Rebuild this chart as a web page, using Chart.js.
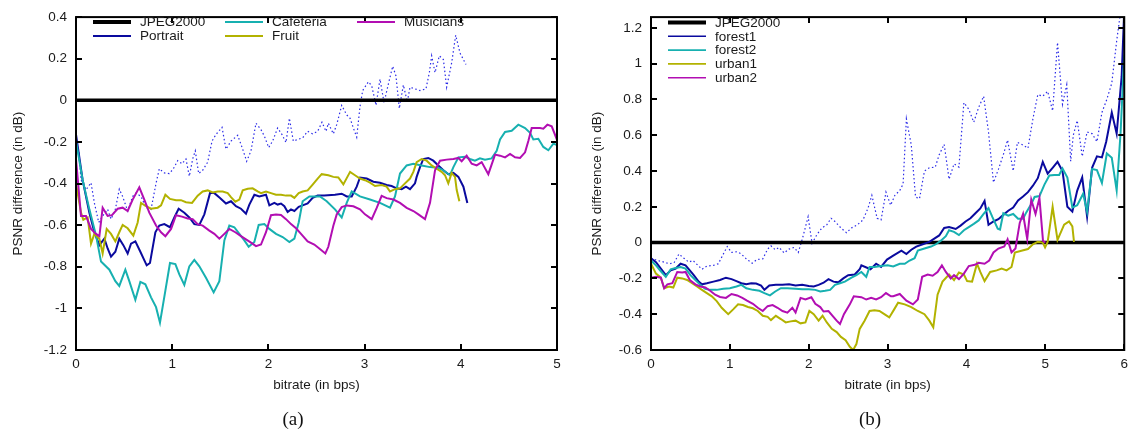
<!DOCTYPE html>
<html>
<head>
<meta charset="utf-8">
<script src="https://cdn.jsdelivr.net/npm/chart.js@4.4.0/dist/chart.umd.min.js"></script>
<style>
  body { margin: 0; background: #fff; }
  #wrap { position: relative; width: 1134px; height: 434px; overflow: hidden; }
  .panel { position: absolute; top: 0; width: 567px; height: 434px; }
  .cap { position: absolute; top: 408px; font-family: "Liberation Serif", "Times New Roman", serif; font-size: 19px; color: #111; transform: translateX(-50%); }
</style>
</head>
<body>
<div id="wrap">
  <div class="panel" style="left:0"><canvas id="chartA"></canvas></div>
  <div class="panel" style="left:567px"><canvas id="chartB"></canvas></div>
  <div class="cap" style="left:293px">(a)</div>
  <div class="cap" style="left:870px">(b)</div>
</div>
<script>
// ---- data: [bitrate (bps), PSNR difference (dB)] ----
const xTicksA = [0, 1, 2, 3, 4, 5];
const yTicksA = [-1.2, -1, -0.8, -0.6, -0.4, -0.2, 0, 0.2, 0.4];
const xTicksB = [0, 1, 2, 3, 4, 5, 6];
const yTicksB = [-0.6, -0.4, -0.2, 0, 0.2, 0.4, 0.6, 0.8, 1, 1.2];

const jpegA = [[0, 0], [5, 0]];
const jpegB = [[0, 0], [6, 0]];

const portrait = [[0,-0.164],[0.069,-0.383],[0.139,-0.540],[0.191,-0.634],[0.243,-0.696],[0.295,-0.665],[0.329,-0.712],[0.364,-0.751],[0.409,-0.728],[0.450,-0.665],[0.492,-0.696],[0.537,-0.736],[0.572,-0.689],[0.617,-0.678],[0.669,-0.728],[0.735,-0.793],[0.769,-0.782],[0.825,-0.634],[0.866,-0.602],[0.918,-0.595],[0.977,-0.610],[1.022,-0.563],[1.067,-0.521],[1.126,-0.540],[1.178,-0.563],[1.230,-0.595],[1.282,-0.599],[1.334,-0.548],[1.393,-0.446],[1.438,-0.446],[1.497,-0.469],[1.559,-0.496],[1.611,-0.485],[1.663,-0.509],[1.715,-0.521],[1.767,-0.545],[1.802,-0.501],[1.854,-0.454],[1.906,-0.462],[1.975,-0.454],[2.010,-0.505],[2.062,-0.493],[2.096,-0.501],[2.131,-0.496],[2.166,-0.509],[2.200,-0.537],[2.235,-0.524],[2.270,-0.532],[2.315,-0.512],[2.356,-0.505],[2.408,-0.496],[2.460,-0.469],[2.512,-0.458],[2.581,-0.458],[2.692,-0.454],[2.762,-0.449],[2.814,-0.462],[2.866,-0.462],[2.918,-0.415],[2.952,-0.371],[3.022,-0.376],[3.091,-0.391],[3.160,-0.396],[3.229,-0.407],[3.281,-0.412],[3.333,-0.423],[3.385,-0.427],[3.430,-0.415],[3.472,-0.427],[3.524,-0.399],[3.541,-0.368],[3.576,-0.321],[3.610,-0.282],[3.662,-0.277],[3.714,-0.290],[3.766,-0.313],[3.819,-0.336],[3.870,-0.355],[3.923,-0.349],[3.975,-0.368],[4.027,-0.415],[4.068,-0.493]];

const cafeteria = [[0,-0.196],[0.069,-0.383],[0.139,-0.524],[0.208,-0.649],[0.260,-0.775],[0.347,-0.814],[0.409,-0.869],[0.450,-0.892],[0.513,-0.814],[0.554,-0.869],[0.617,-0.959],[0.669,-0.873],[0.721,-0.884],[0.780,-0.947],[0.832,-0.994],[0.873,-1.069],[0.929,-0.915],[0.977,-0.782],[1.033,-0.787],[1.074,-0.837],[1.126,-0.887],[1.178,-0.798],[1.230,-0.767],[1.282,-0.798],[1.351,-0.853],[1.431,-0.923],[1.490,-0.869],[1.542,-0.673],[1.594,-0.602],[1.646,-0.610],[1.698,-0.642],[1.750,-0.673],[1.795,-0.704],[1.854,-0.681],[1.899,-0.599],[1.958,-0.595],[2.010,-0.618],[2.079,-0.642],[2.148,-0.657],[2.218,-0.681],[2.270,-0.665],[2.315,-0.587],[2.356,-0.485],[2.426,-0.462],[2.495,-0.462],[2.536,-0.462],[2.606,-0.485],[2.692,-0.524],[2.762,-0.563],[2.814,-0.493],[2.866,-0.438],[2.952,-0.462],[3.056,-0.477],[3.160,-0.493],[3.264,-0.516],[3.316,-0.462],[3.368,-0.352],[3.437,-0.313],[3.507,-0.305],[3.593,-0.313],[3.680,-0.321],[3.766,-0.324],[3.819,-0.336],[3.888,-0.360],[3.923,-0.321],[3.975,-0.274],[4.044,-0.271],[4.095,-0.282],[4.147,-0.290],[4.199,-0.279],[4.251,-0.286],[4.321,-0.279],[4.373,-0.243],[4.408,-0.188],[4.460,-0.152],[4.529,-0.146],[4.598,-0.117],[4.668,-0.133],[4.720,-0.156],[4.754,-0.188],[4.806,-0.185],[4.858,-0.224],[4.910,-0.240],[4.962,-0.208],[5.0,-0.215]];

const fruit = [[0,-0.399],[0.052,-0.540],[0.076,-0.574],[0.121,-0.563],[0.156,-0.689],[0.191,-0.642],[0.243,-0.665],[0.277,-0.736],[0.319,-0.618],[0.364,-0.642],[0.409,-0.678],[0.450,-0.634],[0.485,-0.599],[0.537,-0.615],[0.596,-0.650],[0.641,-0.587],[0.676,-0.493],[0.728,-0.509],[0.780,-0.521],[0.849,-0.516],[0.884,-0.505],[0.929,-0.454],[0.977,-0.474],[1.040,-0.480],[1.091,-0.480],[1.143,-0.490],[1.206,-0.493],[1.265,-0.458],[1.317,-0.438],[1.369,-0.433],[1.421,-0.443],[1.473,-0.438],[1.525,-0.438],[1.577,-0.446],[1.611,-0.465],[1.656,-0.487],[1.698,-0.477],[1.733,-0.433],[1.785,-0.425],[1.836,-0.423],[1.888,-0.438],[1.923,-0.446],[1.975,-0.438],[2.027,-0.446],[2.079,-0.454],[2.131,-0.454],[2.183,-0.458],[2.235,-0.458],[2.270,-0.469],[2.315,-0.446],[2.356,-0.438],[2.408,-0.433],[2.460,-0.405],[2.512,-0.376],[2.554,-0.355],[2.623,-0.360],[2.675,-0.368],[2.727,-0.371],[2.779,-0.404],[2.849,-0.344],[2.900,-0.360],[2.952,-0.376],[3.004,-0.384],[3.056,-0.396],[3.108,-0.412],[3.177,-0.407],[3.229,-0.415],[3.264,-0.438],[3.316,-0.427],[3.368,-0.423],[3.420,-0.399],[3.472,-0.376],[3.507,-0.344],[3.541,-0.297],[3.593,-0.282],[3.645,-0.290],[3.697,-0.313],[3.749,-0.329],[3.801,-0.344],[3.836,-0.360],[3.870,-0.399],[3.905,-0.349],[3.940,-0.368],[3.957,-0.430],[3.985,-0.485]];

const musicians = [[0,-0.282],[0.052,-0.556],[0.104,-0.556],[0.156,-0.618],[0.208,-0.642],[0.243,-0.653],[0.277,-0.516],[0.329,-0.556],[0.374,-0.552],[0.433,-0.521],[0.485,-0.516],[0.537,-0.532],[0.589,-0.477],[0.658,-0.418],[0.710,-0.477],[0.762,-0.540],[0.832,-0.602],[0.884,-0.634],[0.929,-0.653],[0.988,-0.618],[1.040,-0.552],[1.102,-0.559],[1.161,-0.568],[1.213,-0.571],[1.265,-0.595],[1.317,-0.602],[1.386,-0.626],[1.438,-0.642],[1.490,-0.665],[1.542,-0.642],[1.594,-0.618],[1.656,-0.634],[1.715,-0.653],[1.767,-0.668],[1.819,-0.684],[1.871,-0.701],[1.923,-0.693],[1.975,-0.634],[2.027,-0.552],[2.079,-0.549],[2.131,-0.551],[2.183,-0.571],[2.235,-0.595],[2.287,-0.615],[2.339,-0.642],[2.408,-0.678],[2.477,-0.693],[2.529,-0.712],[2.592,-0.736],[2.623,-0.704],[2.675,-0.603],[2.710,-0.548],[2.762,-0.513],[2.814,-0.505],[2.883,-0.509],[2.952,-0.524],[3.004,-0.548],[3.074,-0.571],[3.126,-0.517],[3.177,-0.459],[3.229,-0.470],[3.299,-0.477],[3.368,-0.493],[3.437,-0.517],[3.507,-0.532],[3.559,-0.548],[3.628,-0.571],[3.680,-0.493],[3.732,-0.336],[3.784,-0.290],[3.853,-0.285],[3.923,-0.282],[3.975,-0.277],[4.009,-0.293],[4.061,-0.266],[4.113,-0.305],[4.165,-0.313],[4.217,-0.297],[4.286,-0.355],[4.356,-0.261],[4.408,-0.266],[4.460,-0.274],[4.512,-0.258],[4.564,-0.274],[4.616,-0.277],[4.668,-0.250],[4.702,-0.196],[4.737,-0.133],[4.823,-0.133],[4.858,-0.136],[4.900,-0.117],[4.945,-0.125],[5.0,-0.190]];

const boundA = [[0.03,-0.25],[0.052,-0.383],[0.104,-0.430],[0.156,-0.396],[0.191,-0.493],[0.236,-0.587],[0.277,-0.556],[0.329,-0.524],[0.364,-0.571],[0.409,-0.524],[0.450,-0.427],[0.485,-0.462],[0.537,-0.532],[0.589,-0.462],[0.624,-0.446],[0.676,-0.462],[0.728,-0.516],[0.780,-0.524],[0.832,-0.399],[0.866,-0.329],[0.918,-0.349],[0.970,-0.352],[1.012,-0.329],[1.057,-0.290],[1.102,-0.305],[1.143,-0.282],[1.178,-0.365],[1.213,-0.282],[1.240,-0.243],[1.275,-0.352],[1.317,-0.336],[1.369,-0.297],[1.414,-0.196],[1.455,-0.164],[1.518,-0.130],[1.559,-0.235],[1.611,-0.196],[1.681,-0.168],[1.733,-0.235],[1.774,-0.293],[1.819,-0.243],[1.871,-0.110],[1.923,-0.141],[1.958,-0.172],[2.003,-0.227],[2.044,-0.196],[2.096,-0.133],[2.141,-0.164],[2.183,-0.203],[2.218,-0.086],[2.259,-0.196],[2.304,-0.188],[2.356,-0.180],[2.408,-0.149],[2.460,-0.161],[2.512,-0.149],[2.557,-0.105],[2.599,-0.149],[2.623,-0.110],[2.675,-0.161],[2.710,-0.117],[2.762,-0.024],[2.814,-0.070],[2.849,-0.086],[2.883,-0.133],[2.918,-0.177],[2.952,-0.031],[2.980,0.047],[3.039,0.089],[3.074,0.070],[3.119,-0.024],[3.160,0.102],[3.202,-0.011],[3.247,0.078],[3.292,0.164],[3.326,0.117],[3.361,-0.039],[3.403,0.074],[3.444,-0.008],[3.472,0.063],[3.524,0.055],[3.576,0.047],[3.638,0.055],[3.673,0.133],[3.697,0.214],[3.732,0.133],[3.777,0.214],[3.819,0.196],[3.853,0.063],[3.905,0.180],[3.947,0.313],[3.992,0.227],[4.054,0.172]];

const forest1 = [[0,-0.087],[0.063,-0.109],[0.125,-0.145],[0.188,-0.182],[0.25,-0.155],[0.313,-0.145],[0.375,-0.118],[0.438,-0.127],[0.492,-0.155],[0.542,-0.182],[0.604,-0.218],[0.646,-0.233],[0.708,-0.227],[0.792,-0.218],[0.875,-0.209],[0.95,-0.196],[1.021,-0.204],[1.083,-0.215],[1.146,-0.227],[1.208,-0.233],[1.271,-0.227],[1.333,-0.229],[1.396,-0.240],[1.438,-0.264],[1.5,-0.240],[1.583,-0.236],[1.667,-0.236],[1.75,-0.233],[1.833,-0.240],[1.917,-0.236],[2.0,-0.242],[2.063,-0.245],[2.125,-0.236],[2.188,-0.224],[2.25,-0.204],[2.313,-0.218],[2.375,-0.222],[2.438,-0.200],[2.5,-0.182],[2.583,-0.178],[2.646,-0.149],[2.667,-0.127],[2.783,-0.149],[2.854,-0.118],[2.917,-0.136],[2.992,-0.095],[3.071,-0.073],[3.175,-0.045],[3.238,-0.064],[3.3,-0.040],[3.363,-0.022],[3.446,-0.009],[3.529,0.004],[3.592,0.022],[3.654,0.040],[3.717,0.082],[3.779,0.087],[3.863,0.076],[3.925,0.095],[3.988,0.118],[4.05,0.136],[4.113,0.164],[4.175,0.191],[4.229,0.233],[4.279,0.100],[4.342,0.118],[4.404,0.131],[4.467,0.155],[4.529,0.178],[4.592,0.196],[4.654,0.236],[4.717,0.258],[4.779,0.282],[4.842,0.318],[4.904,0.360],[4.967,0.451],[5.029,0.385],[5.092,0.418],[5.154,0.451],[5.217,0.400],[5.279,0.200],[5.342,0.173],[5.404,0.291],[5.467,0.364],[5.529,0.145],[5.592,0.418],[5.654,0.482],[5.717,0.476],[5.771,0.564],[5.842,0.727],[5.904,0.609],[5.967,0.927],[6.0,1.3]];

const forest2 = [[0,-0.100],[0.063,-0.127],[0.125,-0.160],[0.188,-0.191],[0.25,-0.149],[0.313,-0.142],[0.375,-0.136],[0.438,-0.145],[0.5,-0.182],[0.563,-0.209],[0.625,-0.236],[0.688,-0.258],[0.75,-0.264],[0.833,-0.264],[0.917,-0.258],[1.0,-0.255],[1.083,-0.245],[1.146,-0.236],[1.208,-0.255],[1.292,-0.264],[1.375,-0.269],[1.438,-0.282],[1.508,-0.295],[1.575,-0.273],[1.646,-0.255],[1.729,-0.255],[1.833,-0.258],[1.917,-0.260],[2.0,-0.260],[2.083,-0.264],[2.146,-0.273],[2.208,-0.269],[2.271,-0.264],[2.333,-0.236],[2.396,-0.227],[2.458,-0.218],[2.542,-0.196],[2.604,-0.182],[2.667,-0.164],[2.729,-0.191],[2.771,-0.136],[2.833,-0.136],[2.917,-0.131],[3.0,-0.127],[3.071,-0.133],[3.154,-0.118],[3.217,-0.118],[3.279,-0.100],[3.342,-0.087],[3.383,-0.045],[3.467,-0.033],[3.55,-0.022],[3.613,-0.009],[3.675,0.011],[3.738,0.036],[3.779,0.069],[3.842,0.060],[3.904,0.042],[3.967,0.069],[4.029,0.087],[4.092,0.105],[4.154,0.124],[4.217,0.160],[4.279,0.193],[4.329,0.142],[4.396,0.078],[4.425,0.073],[4.467,0.164],[4.529,0.151],[4.592,0.160],[4.654,0.133],[4.717,0.133],[4.758,0.169],[4.821,0.215],[4.863,0.255],[4.925,0.260],[4.988,0.324],[5.05,0.375],[5.113,0.378],[5.175,0.378],[5.217,0.415],[5.279,0.364],[5.342,0.196],[5.404,0.209],[5.479,0.273],[5.529,0.173],[5.592,0.411],[5.654,0.405],[5.717,0.333],[5.779,0.498],[5.842,0.474],[5.904,0.291],[5.954,0.618],[6.0,1.05]];

const urban1 = [[0,-0.118],[0.063,-0.173],[0.125,-0.196],[0.167,-0.255],[0.229,-0.245],[0.283,-0.251],[0.333,-0.196],[0.396,-0.200],[0.458,-0.209],[0.521,-0.227],[0.583,-0.245],[0.646,-0.264],[0.708,-0.282],[0.771,-0.300],[0.833,-0.327],[0.896,-0.364],[0.979,-0.400],[1.042,-0.373],[1.104,-0.345],[1.167,-0.349],[1.229,-0.360],[1.292,-0.367],[1.354,-0.382],[1.417,-0.409],[1.479,-0.415],[1.521,-0.433],[1.583,-0.409],[1.646,-0.427],[1.708,-0.446],[1.771,-0.440],[1.833,-0.436],[1.896,-0.451],[1.958,-0.446],[2.008,-0.382],[2.063,-0.400],[2.125,-0.436],[2.175,-0.409],[2.229,-0.446],[2.292,-0.482],[2.354,-0.500],[2.408,-0.527],[2.467,-0.545],[2.521,-0.582],[2.563,-0.600],[2.604,-0.567],[2.646,-0.482],[2.708,-0.436],[2.771,-0.382],[2.833,-0.378],[2.896,-0.382],[2.958,-0.400],[3.021,-0.418],[3.083,-0.373],[3.133,-0.336],[3.217,-0.345],[3.3,-0.360],[3.383,-0.382],[3.467,-0.400],[3.529,-0.436],[3.579,-0.473],[3.633,-0.291],[3.696,-0.218],[3.779,-0.178],[3.842,-0.209],[3.904,-0.167],[3.967,-0.178],[4.008,-0.215],[4.071,-0.218],[4.133,-0.118],[4.175,-0.164],[4.229,-0.215],[4.3,-0.164],[4.383,-0.155],[4.446,-0.145],[4.508,-0.155],[4.571,-0.136],[4.613,-0.055],[4.696,-0.045],[4.779,-0.036],[4.842,-0.009],[4.904,0.004],[4.967,0.000],[4.996,-0.027],[5.029,0.004],[5.092,0.200],[5.154,0.015],[5.238,0.100],[5.3,0.118],[5.342,0.091],[5.363,0.004]];

const urban2 = [[0,-0.196],[0.063,-0.191],[0.125,-0.196],[0.167,-0.255],[0.208,-0.233],[0.271,-0.227],[0.333,-0.164],[0.396,-0.167],[0.438,-0.164],[0.492,-0.209],[0.563,-0.233],[0.625,-0.245],[0.688,-0.251],[0.75,-0.269],[0.813,-0.291],[0.875,-0.304],[0.95,-0.309],[1.021,-0.287],[1.092,-0.295],[1.158,-0.309],[1.217,-0.324],[1.292,-0.342],[1.354,-0.364],[1.417,-0.382],[1.479,-0.355],[1.542,-0.349],[1.604,-0.364],[1.667,-0.382],[1.729,-0.391],[1.792,-0.364],[1.833,-0.391],[1.896,-0.309],[1.958,-0.318],[2.033,-0.305],[2.083,-0.342],[2.146,-0.360],[2.188,-0.385],[2.25,-0.382],[2.313,-0.415],[2.354,-0.436],[2.396,-0.455],[2.446,-0.400],[2.521,-0.345],[2.571,-0.300],[2.667,-0.305],[2.729,-0.318],[2.792,-0.309],[2.854,-0.318],[2.917,-0.305],[2.979,-0.282],[3.042,-0.300],[3.071,-0.300],[3.154,-0.287],[3.238,-0.324],[3.321,-0.345],[3.383,-0.318],[3.438,-0.191],[3.508,-0.178],[3.571,-0.185],[3.633,-0.164],[3.688,-0.127],[3.738,-0.164],[3.8,-0.200],[3.842,-0.182],[3.904,-0.204],[3.967,-0.173],[4.029,-0.131],[4.104,-0.124],[4.154,-0.113],[4.229,-0.118],[4.288,-0.100],[4.342,-0.055],[4.404,-0.033],[4.479,-0.022],[4.521,0.018],[4.571,-0.055],[4.621,-0.033],[4.675,0.110],[4.717,0.160],[4.77,0.020],[4.821,0.240],[4.875,0.160],[4.925,0.250],[4.97,0.010],[5.0,0.0]];

const boundB = [[0,-0.087],[0.083,-0.100],[0.167,-0.109],[0.229,-0.118],[0.292,-0.113],[0.354,-0.064],[0.417,-0.087],[0.479,-0.109],[0.533,-0.100],[0.646,-0.149],[0.708,-0.131],[0.792,-0.127],[0.854,-0.118],[0.917,-0.064],[0.967,-0.022],[1.021,-0.055],[1.092,-0.051],[1.146,-0.064],[1.208,-0.091],[1.283,-0.115],[1.342,-0.095],[1.417,-0.091],[1.479,-0.036],[1.521,-0.018],[1.575,-0.040],[1.625,-0.027],[1.688,-0.058],[1.75,-0.036],[1.813,-0.027],[1.867,-0.055],[1.917,0.018],[1.95,0.073],[1.992,0.145],[2.042,-0.004],[2.104,0.045],[2.167,0.082],[2.229,0.100],[2.283,0.136],[2.333,0.118],[2.408,0.082],[2.479,0.055],[2.542,0.082],[2.617,0.100],[2.688,0.127],[2.75,0.191],[2.8,0.264],[2.867,0.136],[2.917,0.127],[2.979,0.282],[3.038,0.209],[3.092,0.264],[3.154,0.291],[3.196,0.327],[3.238,0.691],[3.3,0.545],[3.354,0.255],[3.404,0.245],[3.467,0.400],[3.529,0.418],[3.604,0.422],[3.654,0.491],[3.717,0.549],[3.779,0.354],[3.842,0.440],[3.904,0.422],[3.967,0.782],[4.029,0.745],[4.092,0.673],[4.154,0.755],[4.217,0.818],[4.279,0.618],[4.342,0.336],[4.404,0.409],[4.467,0.491],[4.521,0.573],[4.592,0.400],[4.646,0.560],[4.717,0.545],[4.779,0.527],[4.842,0.691],[4.904,0.827],[4.967,0.818],[5.029,0.845],[5.092,0.736],[5.154,1.118],[5.217,0.773],[5.271,0.882],[5.321,0.455],[5.354,0.600],[5.404,0.682],[5.467,0.482],[5.529,0.618],[5.592,0.609],[5.654,0.564],[5.717,0.727],[5.779,0.800],[5.842,0.891],[5.904,1.127],[5.946,1.264]];

const NAVY = '#0a0a9e';
const TEAL = '#17b0b0';
const OLIVE = '#b2b200';
const MAGENTA = '#b20eb2';
const DOTBLUE = '#2b2be8';
const FONT = "'Liberation Sans', Arial, sans-serif";
const TXT = '#1a1a1a';

function pts(arr) {
    return arr.map(p => ({ x: p[0], y: p[1] }));
}

function series(label, arr, color, width, order) {
    return { label: label, data: pts(arr), borderColor: color, borderWidth: width, order: order, fill: false };
}

// frame with inward ticks (gnuplot style) + hand-placed legend
const gnuFrame = {
    id: 'gnuFrame',
    afterDraw(chart, args, opts) {
        const ctx = chart.ctx;
        const a = chart.chartArea;
        const xs = chart.scales.x, ys = chart.scales.y;
        ctx.save();
        ctx.strokeStyle = '#000';
        ctx.lineWidth = 2;
        ctx.strokeRect(a.left, a.top, a.right - a.left, a.bottom - a.top);
        ctx.beginPath();
        xs.ticks.forEach(t => {
            const px = Math.round(xs.getPixelForValue(t.value));
            ctx.moveTo(px, a.bottom); ctx.lineTo(px, a.bottom - 6);
            ctx.moveTo(px, a.top); ctx.lineTo(px, a.top + 6);
        });
        ys.ticks.forEach(t => {
            const py = Math.round(ys.getPixelForValue(t.value));
            ctx.moveTo(a.left, py); ctx.lineTo(a.left + 6, py);
            ctx.moveTo(a.right, py); ctx.lineTo(a.right - 6, py);
        });
        ctx.stroke();

        // legend, filled column by column
        const items = chart.data.datasets.filter(d => d.label);
        const rows = opts.rows.length;
        ctx.font = '13.5px ' + FONT;
        ctx.textAlign = 'left';
        ctx.textBaseline = 'middle';
        ctx.fillStyle = TXT;
        items.forEach((d, i) => {
            const col = Math.floor(i / rows), row = i % rows;
            const x0 = opts.cols[col], y0 = opts.rows[row];
            ctx.beginPath();
            ctx.strokeStyle = d.borderColor;
            ctx.lineWidth = d.label === 'JPEG2000' ? 4 : opts.sampleWidth;
            ctx.moveTo(x0, y0); ctx.lineTo(x0 + 38, y0);
            ctx.stroke();
            ctx.fillText(d.label, x0 + 47, y0 + 0.5);
        });
        ctx.restore();
    }
};

function makeChart(id, datasets, cfg) {
    const font = { family: FONT, size: 13.5 };
    return new Chart(document.getElementById(id), {
        type: 'line',
        data: { datasets: datasets },
        options: {
            responsive: true,
            maintainAspectRatio: false,
            animation: false,
            layout: { padding: { top: 9, right: cfg.padRight, bottom: 40, left: 0 } },
            elements: { point: { radius: 0 }, line: { tension: 0 } },
            plugins: {
                legend: { display: false },
                tooltip: { enabled: false },
                gnuFrame: cfg.legend
            },
            scales: {
                x: {
                    type: 'linear', min: 0, max: cfg.xMax,
                    afterFit: s => { s.height = 44; },
                    afterBuildTicks: s => { s.ticks = cfg.xTicks.map(v => ({ value: v })); },
                    grid: { drawOnChartArea: false, drawTicks: false },
                    border: { display: false },
                    ticks: { padding: 6, color: TXT, font: font, maxRotation: 0, callback: v => String(+v.toFixed(2)) },
                    title: { display: true, text: 'bitrate (in bps)', color: TXT, font: font, padding: { top: 0, bottom: 1 } }
                },
                y: {
                    type: 'linear', min: cfg.yMin, max: cfg.yMax,
                    afterFit: s => { s.width = cfg.yWidth; },
                    afterBuildTicks: s => { s.ticks = cfg.yTicks.map(v => ({ value: v })); },
                    grid: { drawOnChartArea: false, drawTicks: false },
                    border: { display: false },
                    ticks: { padding: 9, color: TXT, font: font, callback: v => String(+v.toFixed(2)) },
                    title: { display: true, text: 'PSNR difference (in dB)', color: TXT, font: font, padding: { top: cfg.yTitlePad, bottom: 0 } }
                }
            }
        },
        plugins: [gnuFrame]
    });
}

const dotted = (arr) => Object.assign(series('', arr, DOTBLUE, 1.2, 20), { borderDash: [1.5, 2.5] });

makeChart('chartA', [
    series('JPEG2000', jpegA, '#000', 3.5, 15),
    series('Portrait', portrait, NAVY, 2, 4),
    series('Cafeteria', cafeteria, TEAL, 2, 3),
    series('Fruit', fruit, OLIVE, 2, 2),
    series('Musicians', musicians, MAGENTA, 2, 1),
    dotted(boundA)
], {
    xMax: 5, yMin: -1.2, yMax: 0.4, xTicks: xTicksA, yTicks: yTicksA,
    padRight: 10, yWidth: 76, yTitlePad: 10,
    legend: { cols: [93, 225, 357], rows: [22, 36], sampleWidth: 2 }
});

makeChart('chartB', [
    series('JPEG2000', jpegB, '#000', 3.5, 15),
    series('forest1', forest1, NAVY, 2, 4),
    series('forest2', forest2, TEAL, 2, 3),
    series('urban1', urban1, OLIVE, 2, 2),
    series('urban2', urban2, MAGENTA, 2, 1),
    dotted(boundB)
], {
    xMax: 6, yMin: -0.6, yMax: 1.26, xTicks: xTicksB, yTicks: yTicksB,
    padRight: 3, yWidth: 84, yTitlePad: 22,
    legend: { cols: [101], rows: [22.5, 36.3, 50.1, 63.9, 77.7], sampleWidth: 1.6 }
});
</script>
</body>
</html>
